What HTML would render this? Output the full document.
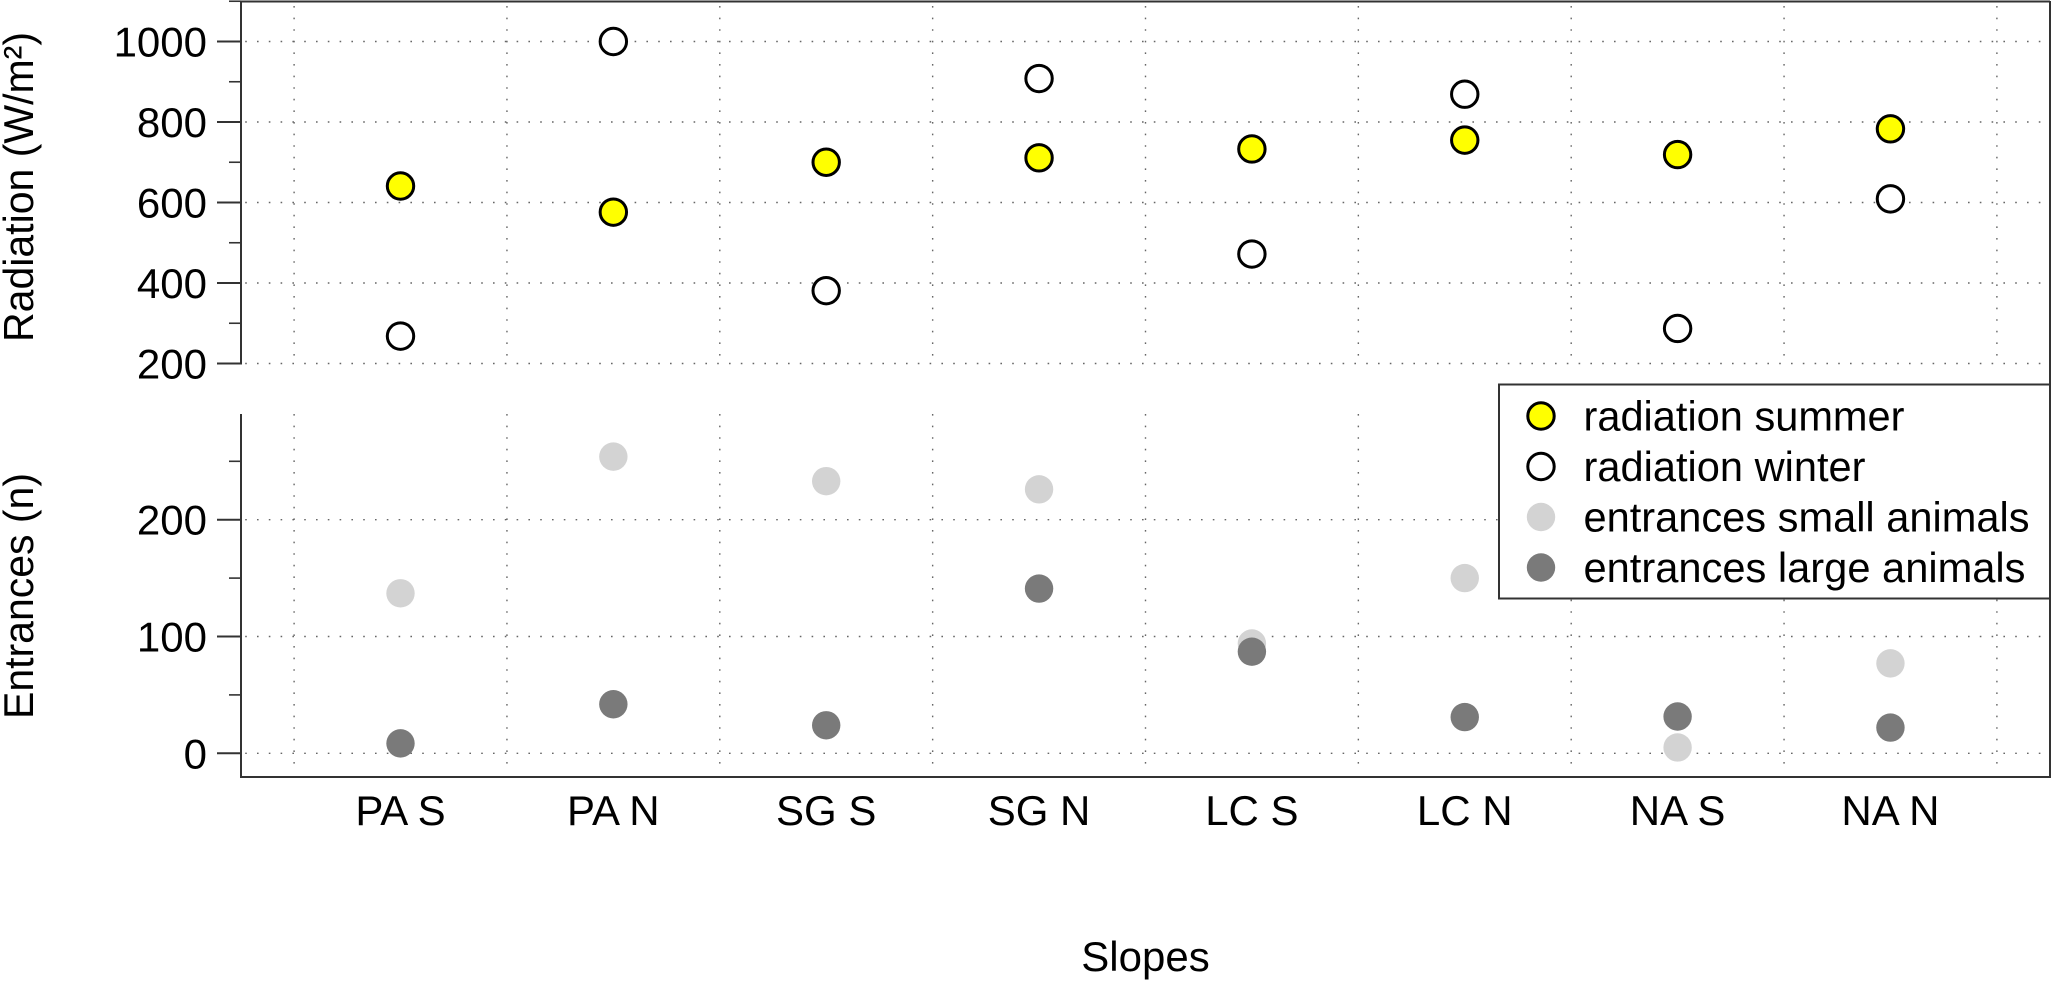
<!DOCTYPE html>
<html lang="en">
<head>
<meta charset="utf-8">
<title>Radiation and entrances by slope</title>
<style>
  html, body { margin: 0; padding: 0; background: #fff; }
  svg { display: block; }
  text { font-family: "Liberation Sans", Arial, sans-serif; fill: #000; }
</style>
</head>
<body>
<svg id="chart" xmlns="http://www.w3.org/2000/svg" width="2052" height="981" viewBox="0 0 2052 981">
  <rect x="0" y="0" width="2052" height="981" fill="#fff"/>
  <g id="grid"></g>
  <g id="marks"></g>
  <g id="axes"></g>
  <text transform="translate(33,187) rotate(-90)" text-anchor="middle" font-size="42" textLength="310" lengthAdjust="spacingAndGlyphs">Radiation (W/m²)</text>
  <text transform="translate(33,596) rotate(-90)" text-anchor="middle" font-size="42" textLength="246" lengthAdjust="spacingAndGlyphs">Entrances (n)</text>
  <text x="1145.5" y="971" text-anchor="middle" font-size="42">Slopes</text>
  <g id="legend"></g>
</svg>
<script>
const categories = ['PA S', 'PA N', 'SG S', 'SG N', 'LC S', 'LC N', 'NA S', 'NA N'];
const radiationSummer = [641, 576, 700, 711, 733, 755, 719, 783];
const radiationWinter = [268, 1000, 381, 908, 472, 869, 287, 609];
const entrancesSmall = [137, 254, 233, 226, 94, 150, 5, 77];
const entrancesLarge = [8.5, 42, 24, 141, 87, 31, 31.5, 22];
const radiationMajorTicks = [200, 400, 600, 800, 1000];
const radiationMinorTicks = [300, 500, 700, 900, 1100];
const entrancesMajorTicks = [0, 100, 200];
const entrancesMinorTicks = [50, 150, 250];
const legendLabels = ['radiation summer', 'radiation winter', 'entrances small animals', 'entrances large animals'];

const NS = 'http://www.w3.org/2000/svg';
const AXIS = '#333';
const LEFT = 241, RIGHT = 2050;

function xScale(i) { return 400.5 + 212.85 * i; }
function yRad(v) { return 363.5 - (v - 200) * 0.4025; }
function yEnt(v) { return 753.3 - v * 1.168; }

function make(tag, attrs, parent) {
  const el = document.createElementNS(NS, tag);
  for (const k in attrs) el.setAttribute(k, attrs[k]);
  parent.appendChild(el);
  return el;
}

const grid = document.getElementById('grid');
const marks = document.getElementById('marks');
const axes = document.getElementById('axes');
const legend = document.getElementById('legend');

function hGrid(y) {
  const l = make('line', { x1: 245.2, x2: RIGHT, y1: y, y2: y, stroke: '#666', 'stroke-width': 1.4, 'stroke-dasharray': '1.6 10.2' }, grid);
  
  
}
function vGrid(x, y1, y2) {
  const l = make('line', { x1: x, x2: x, y1: y1, y2: y2, stroke: '#666', 'stroke-width': 1.4, 'stroke-dasharray': '1.6 10' }, grid);
  
  
}
radiationMajorTicks.forEach(v => hGrid(yRad(v)));
entrancesMajorTicks.forEach(v => hGrid(yEnt(v)));
for (let i = 0; i <= categories.length; i++) {
  const x = xScale(i) - 106.4;
  vGrid(x, 6, 364);
  vGrid(x, 414, 770);
}

function tick(y, major, axisName) {
  const t = make('line', { x1: major ? 217 : 229, x2: LEFT, y1: y, y2: y, stroke: AXIS, 'stroke-width': major ? 2 : 1.6 }, axes);
  
  
}
function tickLabel(y, v, axisName) {
  const t = make('text', { x: 207, y: y + 15, 'text-anchor': 'end', 'font-size': 42 }, axes);
  t.textContent = String(v);
  
  
}
radiationMajorTicks.forEach(v => { tick(yRad(v), true, 'radiation-axis'); tickLabel(yRad(v), v, 'radiation-axis'); });
radiationMinorTicks.forEach(v => tick(yRad(v), false, 'radiation-axis'));
entrancesMajorTicks.forEach(v => { tick(yEnt(v), true, 'entrances-axis'); tickLabel(yEnt(v), v, 'entrances-axis'); });
entrancesMinorTicks.forEach(v => tick(yEnt(v), false, 'entrances-axis'));

function frame(x1, y1, x2, y2, name) {
  const l = make('line', { x1: x1, y1: y1, x2: x2, y2: y2, stroke: AXIS, 'stroke-width': 2 }, axes);
  
  
}
frame(LEFT, 1.5, RIGHT, 1.5, 'top-border');
frame(LEFT, 1, LEFT, 364.5, 'radiation-axis-line');
frame(LEFT, 414, LEFT, 778, 'entrances-axis-line');
frame(LEFT, 777, RIGHT + 1, 777, 'bottom-border');
frame(RIGHT, 1, RIGHT, 778, 'right-border');

categories.forEach((c, i) => {
  const t = make('text', { x: xScale(i), y: 825, 'text-anchor': 'middle', 'font-size': 42 }, axes);
  t.textContent = c;
  
  
});

entrancesSmall.forEach((v, i) => {
  const c = make('circle', { cx: xScale(i), cy: yEnt(v), r: 14.2, fill: '#d3d3d3' }, marks);
  
  
});
entrancesLarge.forEach((v, i) => {
  const c = make('circle', { cx: xScale(i), cy: yEnt(v), r: 14.2, fill: '#7a7a7a' }, marks);
  
  
});
radiationSummer.forEach((v, i) => {
  const c = make('circle', { cx: xScale(i), cy: yRad(v), r: 13.2, fill: '#ffff00', stroke: '#000', 'stroke-width': 3 }, marks);
  
  
});
radiationWinter.forEach((v, i) => {
  const c = make('circle', { cx: xScale(i), cy: yRad(v), r: 13.2, fill: '#fff', stroke: '#000', 'stroke-width': 3 }, marks);
  
  
});

const legendBox = make('rect', { x: 1499, y: 384.5, width: 551, height: 214, fill: '#fff', stroke: AXIS, 'stroke-width': 2 }, legend);



const legendFills = ['#ffff00', '#fff', '#d3d3d3', '#7a7a7a'];
const legendStrokes = ['#000', '#000', 'none', 'none'];
const legendWidths = [321, 282, 446, 442];
legendLabels.forEach((label, i) => {
  const rowY = 416 + i * 50.5;
  const outline = legendStrokes[i] !== 'none';
  const e = make('circle', {
    cx: 1541, cy: rowY,
    r: outline ? 13.2 : 14.2,
    fill: legendFills[i], stroke: legendStrokes[i], 'stroke-width': outline ? 3 : 0
  }, legend);
  
  
  const t = make('text', { x: 1583.5, y: rowY + 14.7, 'font-size': 41.5, textLength: legendWidths[i], lengthAdjust: 'spacingAndGlyphs' }, legend);
  t.textContent = label;
  
  
});
</script>
</body>
</html>
